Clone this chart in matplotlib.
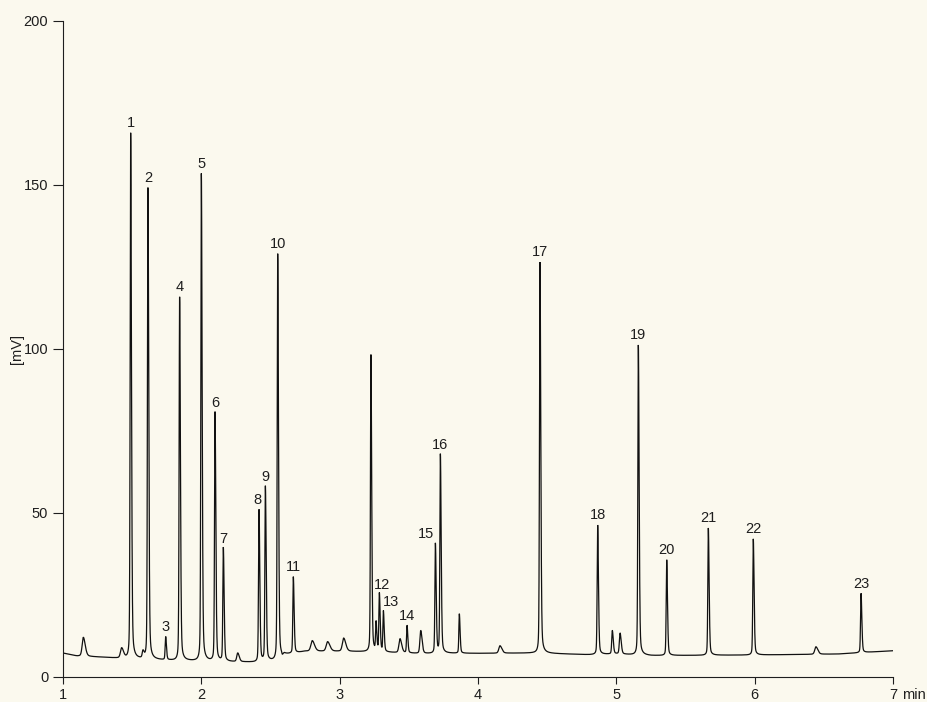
import numpy as np
import matplotlib
matplotlib.use("Agg")
import matplotlib.pyplot as plt

# ---------------- data ----------------
# labelled peaks: retention time (min), apex value (mV)
peak_labels = [str(i) for i in range(1, 24)]
peak_rt = [1.489, 1.614, 1.742, 1.843, 2.000, 2.099, 2.159, 2.417, 2.463, 2.552,
           2.665, 3.287, 3.316, 3.487, 3.692, 3.728, 4.448, 4.865, 5.159, 5.364,
           5.665, 5.990, 6.769]
peak_top = [165.8, 149.0, 12.1, 115.8, 153.4, 80.6, 39.2, 50.9, 57.9, 128.9,
            30.4, 25.2, 19.8, 15.6, 40.6, 67.7, 126.5, 46.3, 101.2, 35.7,
            45.4, 42.1, 25.5]

# unlabelled peaks / bumps / dips
minor_rt = [1.147, 1.424, 1.578, 2.263, 2.585, 2.802, 2.913, 3.029, 3.226, 3.263,
            3.436, 3.586, 3.865, 4.159, 4.971, 5.027, 6.443]
minor_top = [12.1, 8.7, 7.4, 7.2, 5.4, 11.0, 10.7, 11.8, 98.2, 16.2,
             11.6, 14.1, 19.2, 9.5, 14.1, 13.3, 9.2]
minor_hw = [0.010, 0.010, 0.006, 0.008, 0.004, 0.012, 0.012, 0.011, 0.004, 0.004,
            0.009, 0.007, 0.004, 0.010, 0.005, 0.006, 0.010]

# baseline drift
base_x = [1.0, 1.1, 1.3, 1.45, 1.6, 1.8, 2.0, 2.2, 2.4, 2.56, 2.6, 2.68, 2.75,
          3.0, 3.2, 3.4, 3.6, 3.8, 4.0, 4.4, 4.8, 5.0, 5.25, 5.6, 6.0, 6.6, 7.0]
base_y = [7.3, 6.4, 6.0, 5.6, 5.3, 5.0, 4.8, 4.6, 4.5, 5.0, 6.7, 7.2, 7.8,
          7.8, 7.7, 7.4, 7.1, 7.2, 7.2, 7.3, 6.8, 7.0, 6.5, 6.6, 6.7, 7.0, 8.0]

x_ticks = [1, 2, 3, 4, 5, 6, 7]
y_ticks = [0, 50, 100, 150, 200]

# label nudges in pixels (dx)
label_dx = {"8": -2, "12": 3, "13": 8, "15": -9}

# ---------------- build trace ----------------
BG = "#fbf9ee"
INK = "#1e1e1e"
FS = 10.5

t = np.linspace(1.0, 7.0, 24001)
baseline = np.interp(t, base_x, base_y)


def shape(x, c, hw, eta=0.3, tail=1.6):
    d = x - c
    w = np.where(d < 0, hw, hw * tail)
    u = d / w
    return eta / (1 + u ** 2) + (1 - eta) * np.exp(-np.log(2) * u ** 2)


signal = baseline.copy()
for c, top in zip(peak_rt, peak_top):
    amp = top - np.interp(c, base_x, base_y)
    signal += amp * shape(t, c, 0.0042)
for c, top, hw in zip(minor_rt, minor_top, minor_hw):
    amp = top - np.interp(c, base_x, base_y)
    signal += amp * shape(t, c, hw)

# ---------------- figure ----------------
plt.rcParams["font.family"] = ["Liberation Sans", "DejaVu Sans"]
fig = plt.figure(figsize=(9.27, 7.02), dpi=100, facecolor=BG)
ax = fig.add_axes([63 / 927, 1 - 677 / 702, 830 / 927, 656 / 702])
ax.set_facecolor(BG)

ax.plot(t, signal, color="#111111", lw=0.9, solid_joinstyle="miter")

ax.set_xlim(1, 7)
ax.set_ylim(0, 200)
ax.set_xticks(x_ticks)
ax.set_yticks(y_ticks)
ax.set_xticklabels([str(v) for v in x_ticks])
ax.set_yticklabels([str(v) for v in y_ticks])

for s in ("top", "right"):
    ax.spines[s].set_visible(False)
for s in ("left", "bottom"):
    ax.spines[s].set_linewidth(0.8)
    ax.spines[s].set_color(INK)

ax.tick_params(axis="y", direction="out", length=7.2, width=0.8, pad=3.5,
               labelsize=FS, colors=INK)
ax.tick_params(axis="x", direction="out", length=5.0, width=0.8, pad=3.0,
               labelsize=FS, colors=INK)

ax.set_ylabel("[mV]", fontsize=FS, color=INK)
ax.yaxis.set_label_coords(-0.047, 0.5)

ax.annotate("min", xy=(7, 0), xycoords=("data", "axes fraction"),
            xytext=(6.8, -8.0), textcoords="offset points",
            ha="left", va="top", fontsize=FS, color=INK)

for lab, c, top in zip(peak_labels, peak_rt, peak_top):
    dx = label_dx.get(lab, 0) * 0.72
    ax.annotate(lab, xy=(c, top), xytext=(dx, 4.2), textcoords="offset points",
                ha="center", va="baseline", fontsize=FS, color=INK)

fig.savefig("out.png", dpi=100, facecolor=BG)
